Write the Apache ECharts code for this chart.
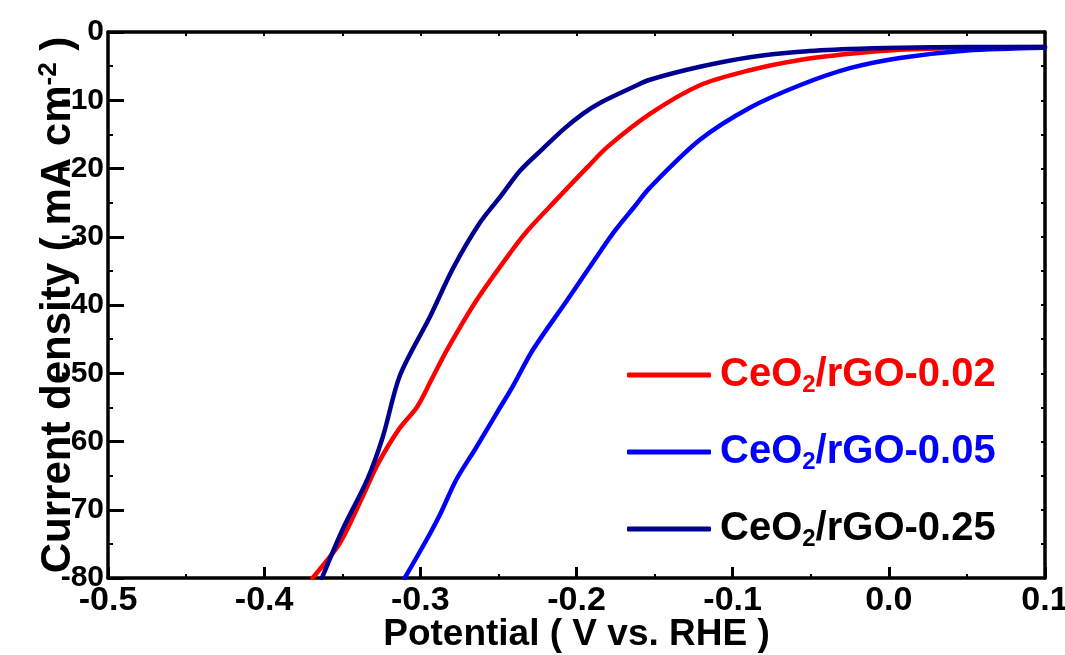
<!DOCTYPE html>
<html>
<head>
<meta charset="utf-8">
<script src="https://cdn.jsdelivr.net/npm/echarts@6/dist/echarts.min.js"></script>
<style>
  html, body { margin: 0; padding: 0; background: #fff; }
  #chart { width: 1065px; height: 655px; }
</style>
</head>
<body>
<div id="chart"></div>
<script>
// series names and their [potential (V vs RHE), current density (mA cm-2)] points
const names = ['CeO2/rGO-0.02', 'CeO2/rGO-0.05', 'CeO2/rGO-0.25']
const colors = ['#ff0000', '#0000ff', '#000090']
const textColors = ['#ff0000', '#0000ff', '#000000']

const rgo002 = [
  [-0.369, -80], [-0.353, -75.4], [-0.346, -72.5], [-0.335, -67.1], [-0.327, -63.2],
  [-0.314, -58.3], [-0.302, -54.9], [-0.293, -51], [-0.283, -46.6], [-0.264, -39.3],
  [-0.241, -31.9], [-0.231, -29], [-0.213, -24.6], [-0.193, -19.8], [-0.180, -16.8],
  [-0.153, -12], [-0.121, -7.8], [-0.089, -5.6], [-0.057, -4.1], [-0.025, -3.2],
  [0.007, -2.6], [0.05, -2.3], [0.1, -2.2]
]
const rgo005 = [
  [-0.310, -80], [-0.296, -74.4], [-0.287, -70.5], [-0.277, -65.6], [-0.264, -60.8],
  [-0.251, -55.8], [-0.241, -52], [-0.228, -46.6], [-0.206, -39.3], [-0.184, -31.9],
  [-0.175, -29], [-0.164, -25.9], [-0.153, -22.8], [-0.121, -15.8], [-0.089, -11.1],
  [-0.057, -7.8], [-0.025, -5.3], [0.007, -3.8], [0.05, -2.7], [0.1, -2.3]
]
const rgo025 = [
  [-0.363, -80], [-0.350, -73], [-0.334, -65.6], [-0.324, -59.3], [-0.313, -50.3],
  [-0.294, -41.8], [-0.279, -34.6], [-0.262, -28], [-0.249, -24.2], [-0.236, -20.3],
  [-0.222, -17.2], [-0.208, -14.2], [-0.196, -12], [-0.185, -10.4], [-0.164, -8.1],
  [-0.153, -7.0], [-0.121, -5.1], [-0.089, -3.7], [-0.057, -2.9], [-0.025, -2.5],
  [0.007, -2.3], [0.05, -2.2], [0.1, -2.2]
]
const allData = [rgo002, rgo005, rgo025]

const font = "'Liberation Sans', Arial, sans-serif"

function legendText(name) {
  // CeO2 -> CeO with a small subscript 2
  let rest = name.slice(4)
  return '{a|CeO}{s|2}{a|' + rest + '}'
}

let option = {
  animation: false,
  grid: { left: 108, right: 20, top: 32, bottom: 77, outerBoundsMode: 'none' },
  legend: {
    orient: 'vertical',
    left: 622,
    top: 350,
    itemWidth: 84,
    itemHeight: 5,
    itemGap: 35,
    icon: 'roundRect',
    formatter: legendText,
    textStyle: {
      fontFamily: font,
      fontWeight: 'bold',
      fontSize: 40,
      padding: [0, 0, 0, 4],
      rich: {
        a: { fontFamily: font, fontWeight: 'bold', fontSize: 40 },
        s: { fontFamily: font, fontWeight: 'bold', fontSize: 24, padding: [20, 0, 0, 0] }
      }
    },
    data: names.map((n, i) => ({ name: n, textStyle: { color: textColors[i] } }))
  },
  xAxis: [{
    type: 'value',
    min: -0.5,
    max: 0.1,
    interval: 0.1,
    name: 'Potential ( V vs. RHE )',
    nameLocation: 'middle',
    nameGap: 38,
    nameMoveOverlap: false,
    nameTextStyle: { fontFamily: font, fontWeight: 'bold', fontSize: 37, color: '#000' },
    axisLine: { onZero: false, lineStyle: { color: '#000', width: 3.5 } },
    axisTick: { inside: true, length: 11, lineStyle: { color: '#000', width: 3 } },
    minorTick: { show: true, splitNumber: 2, length: 4, lineStyle: { color: '#000', width: 2 } },
    splitLine: { show: false },
    axisLabel: {
      margin: 6,
      fontFamily: font, fontWeight: 'bold', fontSize: 34, color: '#000',
      formatter: v => v.toFixed(1)
    }
  }, {
    type: 'value',
    position: 'top',
    min: -0.5,
    max: 0.1,
    interval: 0.05,
    axisLine: { onZero: false, lineStyle: { color: '#000', width: 3.5 } },
    axisTick: { inside: true, length: 4, lineStyle: { color: '#000', width: 2 } },
    axisLabel: { show: false },
    splitLine: { show: false }
  }],
  yAxis: [{
    type: 'value',
    min: -80,
    max: 0,
    interval: 10,
    name: '{t|Current density ( mA cm}{p|-2}{t| )}',
    nameLocation: 'middle',
    nameGap: 28,
    nameMoveOverlap: false,
    nameTextStyle: {
      color: '#000',
      rich: {
        t: { fontFamily: font, fontWeight: 'bold', fontSize: 42, color: '#000' },
        p: { fontFamily: font, fontWeight: 'bold', fontSize: 26, color: '#000', padding: [0, 0, 18, 0] }
      }
    },
    axisLine: { onZero: false, lineStyle: { color: '#000', width: 3.5 } },
    axisTick: { inside: true, length: 16, lineStyle: { color: '#000', width: 3 } },
    minorTick: { show: true, splitNumber: 2, length: 5, lineStyle: { color: '#000', width: 2 } },
    splitLine: { show: false },
    axisLabel: { margin: 4, fontFamily: font, fontWeight: 'bold', fontSize: 30, color: '#000' }
  }, {
    type: 'value',
    position: 'right',
    min: -80,
    max: 0,
    interval: 5,
    axisLine: { onZero: false, lineStyle: { color: '#000', width: 3.5 } },
    axisTick: { inside: true, length: 4, lineStyle: { color: '#000', width: 2 } },
    axisLabel: { show: false },
    splitLine: { show: false }
  }],
  series: []
}

names.forEach((n, i) => {
  option.series.push({
    name: n,
    type: 'line',
    data: allData[i],
    smooth: 0.3,
    showSymbol: false,
    symbol: 'none',
    clip: true,
    lineStyle: { color: colors[i], width: 4.5, cap: 'round' },
    itemStyle: { color: colors[i] }
  })
})

let myChart = echarts.init(document.getElementById('chart'))
myChart.setOption(option)
</script>
</body>
</html>
